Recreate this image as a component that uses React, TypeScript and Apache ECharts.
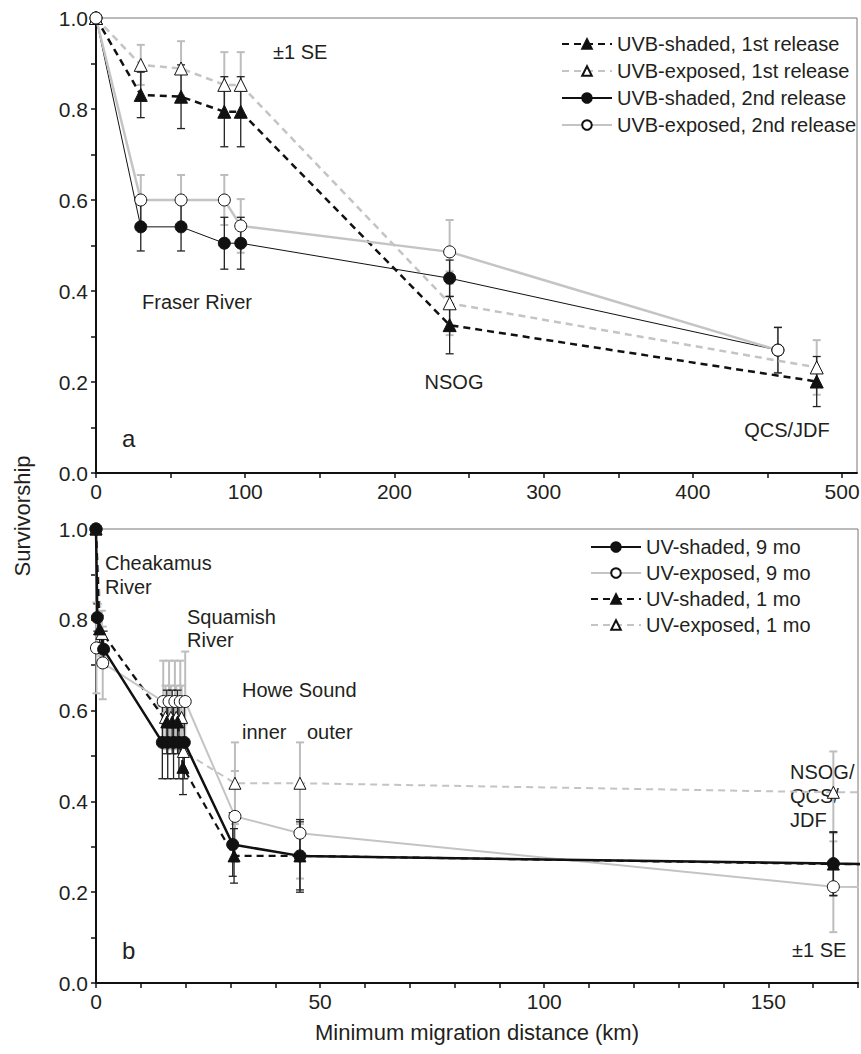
import React, { useEffect, useRef } from 'react';
import * as echarts from 'echarts';

const FONT = '"Liberation Sans", Arial, Helvetica, sans-serif';
const INK = '#231f20';
const GREY = '#c4c4c4';
const GREY_ERR = '#bdbdbd';

// ---------- Panel a (distance units as on the axis) ----------
const distA1 = [0, 30, 57, 86, 97, 237, 483];
const distA2 = [0, 30, 57, 86, 97, 237, 457];
const shadedA1 = [1.0, 0.831, 0.827, 0.794, 0.794, 0.325, 0.201];
const shadedA1SE = [0, 0.05, 0.07, 0.077, 0.077, 0.063, 0.055];
const exposedA1 = [1.0, 0.897, 0.889, 0.853, 0.853, 0.373, 0.232];
const exposedA1SE = [0, 0.044, 0.06, 0.072, 0.072, 0.07, 0.06];
const shadedA2 = [1.0, 0.541, 0.541, 0.505, 0.505, 0.428, 0.27];
const shadedA2SE = [0, 0.053, 0.053, 0.057, 0.057, 0.04, 0.05];
const exposedA2 = [1.0, 0.6, 0.6, 0.6, 0.543, 0.486, 0.27];
const exposedA2SE = [0, 0.055, 0.055, 0.055, 0.059, 0.07, 0.05];

// ---------- Panel b (km) ----------
const distB9s = [0, 0.3, 1.7, 14.8, 16.0, 17.3, 18.5, 19.7, 30.5, 45.5, 164.5];
const shadedB9 = [1.0, 0.805, 0.735, 0.53, 0.53, 0.53, 0.53, 0.53, 0.305, 0.28, 0.263];
const shadedB9SE = [0, 0.03, 0.04, 0.08, 0.08, 0.08, 0.08, 0.08, 0.07, 0.075, 0.07];
const distB9e = [0, 0.1, 1.5, 15.0, 16.3, 17.6, 18.8, 19.9, 31, 45.5, 164.5];
const exposedB9 = [1.0, 0.738, 0.705, 0.62, 0.62, 0.62, 0.62, 0.62, 0.367, 0.33, 0.212];
const exposedB9SE = [0, 0.1, 0.08, 0.09, 0.09, 0.09, 0.09, 0.11, 0.1, 0.1, 0.1];
const distB1s = [0, 0.8, 15.8, 17.0, 18.2, 19.4, 30.8, 45.5, 164.5];
const shadedB1 = [1.0, 0.78, 0.575, 0.575, 0.575, 0.475, 0.28, 0.28, 0.262];
const shadedB1SE = [0, 0.03, 0.07, 0.07, 0.07, 0.06, 0.06, 0.08, 0.07];
const distB1e = [0, 1.3, 15.5, 16.7, 17.9, 19.1, 19.5, 31, 45.5, 164.5];
const exposedB1 = [1.0, 0.77, 0.585, 0.585, 0.585, 0.585, 0.51, 0.44, 0.44, 0.42];
const exposedB1SE = [0, 0.05, 0.07, 0.07, 0.07, 0.07, 0.06, 0.09, 0.09, 0.09];
// the lines continue past the right end of the axis
const tailDistB = 190;
const tailShadedB9 = 0.26;
const tailExposedB9 = 0.209;
const tailShadedB1 = 0.26;
const tailExposedB1 = 0.42;

const ticksA = [0, 50, 100, 150, 200, 250, 300, 350, 400, 450, 500];
const labelsA = [0, 100, 200, 300, 400, 500];
const ticksB = [0, 10, 20, 30, 40, 50, 60, 70, 80, 90, 100, 110, 120, 130, 140, 150, 160, 170];
const labelsB = [0, 50, 100, 150];
const ticksY = [0, 0.1, 0.2, 0.3, 0.4, 0.5, 0.6, 0.7, 0.8, 0.9, 1.0];
const labelsY = [0, 0.2, 0.4, 0.6, 0.8, 1.0];

const legendA = ['UVB-shaded, 1st release', 'UVB-exposed, 1st release', 'UVB-shaded, 2nd release', 'UVB-exposed, 2nd release'];
const legendB = ['UV-shaded, 9 mo', 'UV-exposed, 9 mo', 'UV-shaded, 1 mo', 'UV-exposed, 1 mo'];

type Sty = { symbol: string; size: number; fill: string; border: string; lineColor: string; width: number; dashed: boolean };

function lineSeries(name: string, xs: number[], ys: number[], idx: number, s: Sty, z: number, tail?: [number, number]) {
  const data: any[] = xs.map((x, i) => [x, ys[i]]);
  if (tail) data.push({ value: tail, symbol: 'none' });
  return {
    type: 'line',
    name,
    xAxisIndex: idx,
    yAxisIndex: idx,
    data,
    symbol: s.symbol,
    symbolSize: s.size,
    showAllSymbol: true,
    clip: true,
    z,
    itemStyle: { color: s.fill, borderColor: s.border, borderWidth: 1, opacity: 1 },
    lineStyle: { color: s.lineColor, width: s.width, type: s.dashed ? [7, 5] : 'solid' },
    emphasis: { disabled: true },
    silent: true,
  };
}

function errSeries(xs: number[], ys: number[], se: number[], idx: number, color: string, width: number, z: number) {
  return {
    type: 'custom',
    xAxisIndex: idx,
    yAxisIndex: idx,
    z,
    silent: true,
    clip: false,
    data: xs.map((x, i) => [x, ys[i], se[i]]),
    encode: { x: 0, y: 1 },
    renderItem: (_p: any, api: any) => {
      const x = api.value(0);
      const y = api.value(1);
      const e = api.value(2);
      if (!e) return { type: 'group', children: [] };
      const hi = api.coord([x, y + e]);
      const lo = api.coord([x, y - e]);
      const cw = 4;
      const st = { stroke: color, lineWidth: width };
      return {
        type: 'group',
        children: [
          { type: 'line', shape: { x1: hi[0], y1: hi[1], x2: lo[0], y2: lo[1] }, style: st },
          { type: 'line', shape: { x1: hi[0] - cw, y1: hi[1], x2: hi[0] + cw, y2: hi[1] }, style: st },
          { type: 'line', shape: { x1: lo[0] - cw, y1: lo[1], x2: lo[0] + cw, y2: lo[1] }, style: st },
        ],
      };
    },
  };
}

function xAxis(idx: number, max: number, ticks: number[], labels: number[]) {
  return {
    type: 'value',
    gridIndex: idx,
    min: 0,
    max,
    axisLine: { show: true, onZero: false, lineStyle: { color: '#111', width: 2 } },
    axisTick: { show: true, customValues: ticks, length: 5, inside: false, lineStyle: { color: '#111', width: 1.5 } },
    axisLabel: { show: true, customValues: labels, fontSize: 21, color: INK, fontFamily: FONT, margin: 8 },
    splitLine: { show: false },
  };
}

function yAxis(idx: number) {
  return {
    type: 'value',
    gridIndex: idx,
    min: 0,
    max: 1,
    axisLine: { show: true, onZero: false, lineStyle: { color: '#111', width: 2 } },
    axisTick: { show: true, customValues: ticksY, length: 5, inside: false, lineStyle: { color: '#111', width: 1.5 } },
    axisLabel: {
      show: true,
      customValues: labelsY,
      fontSize: 21,
      color: INK,
      fontFamily: FONT,
      margin: 8,
      formatter: (v: number) => v.toFixed(1),
    },
    splitLine: { show: false },
  };
}

function txt(text: string, x: number, y: number, size = 20, align = 'left') {
  return {
    type: 'text',
    x,
    y,
    silent: true,
    style: { text, fill: INK, font: `${size}px ${FONT}`, align, verticalAlign: 'middle' },
  };
}

const shadedTri: Sty = { symbol: 'triangle', size: 13, fill: '#111', border: '#111', lineColor: '#111', width: 2.5, dashed: true };
const exposedTri: Sty = { symbol: 'triangle', size: 13, fill: '#fff', border: '#111', lineColor: GREY, width: 2.5, dashed: true };
const shadedCircThin: Sty = { symbol: 'circle', size: 12, fill: '#111', border: '#111', lineColor: '#111', width: 1, dashed: false };
const exposedCirc: Sty = { symbol: 'circle', size: 12, fill: '#fff', border: '#111', lineColor: GREY, width: 2.5, dashed: false };
const shadedCircThick: Sty = { symbol: 'circle', size: 12, fill: '#111', border: '#111', lineColor: '#111', width: 2.5, dashed: false };
const exposedCircB: Sty = { symbol: 'circle', size: 12, fill: '#fff', border: '#111', lineColor: GREY, width: 2, dashed: false };
const shadedTriB: Sty = { symbol: 'triangle', size: 12, fill: '#111', border: '#111', lineColor: '#111', width: 2.2, dashed: true };
const exposedTriB: Sty = { symbol: 'triangle', size: 12, fill: '#fff', border: '#111', lineColor: GREY, width: 2, dashed: true };

export default function App() {
  const ref = useRef<HTMLDivElement>(null);
  useEffect(() => {
    document.body.style.margin = '0';
    if (!ref.current) return;
    const chart = echarts.init(ref.current, undefined, { renderer: 'svg' });
    const legendCommon = {
      orient: 'vertical',
      itemWidth: 50,
      itemHeight: 12,
      selectedMode: false,
      textStyle: { fontSize: 20, color: INK, fontFamily: FONT },
    };
    chart.setOption({
      animation: false,
      backgroundColor: '#fff',
      grid: [
        { left: 96, top: 18, width: 761, height: 455, show: true, borderColor: '#777', borderWidth: 1, containLabel: false, outerBoundsMode: 'none' },
        { left: 96, top: 529, width: 762, height: 454, show: true, borderColor: '#777', borderWidth: 1, containLabel: false, outerBoundsMode: 'none' },
      ],
      xAxis: [xAxis(0, 510, ticksA, labelsA), xAxis(1, 170, ticksB, labelsB)],
      yAxis: [yAxis(0), yAxis(1)],
      legend: [
        { ...legendCommon, data: legendA, left: 556, top: 29, itemGap: 7 },
        { ...legendCommon, data: legendB, left: 585, top: 532, itemGap: 6 },
      ],
      series: [
        // panel a error bars
        errSeries(distA1, exposedA1, exposedA1SE, 0, GREY_ERR, 2, 1),
        errSeries(distA2, exposedA2, exposedA2SE, 0, GREY_ERR, 2, 1),
        errSeries(distA1, shadedA1, shadedA1SE, 0, '#222', 1.3, 1),
        errSeries(distA2, shadedA2, shadedA2SE, 0, '#222', 1.3, 1),
        // panel a lines
        lineSeries(legendA[0], distA1, shadedA1, 0, shadedTri, 3),
        lineSeries(legendA[1], distA1, exposedA1, 0, exposedTri, 3),
        lineSeries(legendA[2], distA2, shadedA2, 0, shadedCircThin, 3),
        lineSeries(legendA[3], distA2, exposedA2, 0, exposedCirc, 3),
        // panel b error bars
        errSeries(distB9e, exposedB9, exposedB9SE, 1, GREY_ERR, 2, 1),
        errSeries(distB1e, exposedB1, exposedB1SE, 1, GREY_ERR, 2, 1),
        errSeries(distB9s, shadedB9, shadedB9SE, 1, '#222', 1.3, 1),
        errSeries(distB1s, shadedB1, shadedB1SE, 1, '#222', 1.3, 1),
        // panel b lines
        lineSeries(legendB[3], distB1e, exposedB1, 1, exposedTriB, 3, [tailDistB, tailExposedB1]),
        lineSeries(legendB[2], distB1s, shadedB1, 1, shadedTriB, 3, [tailDistB, tailShadedB1]),
        lineSeries(legendB[1], distB9e, exposedB9, 1, exposedCircB, 3, [tailDistB, tailExposedB9]),
        lineSeries(legendB[0], distB9s, shadedB9, 1, shadedCircThick, 3, [tailDistB, tailShadedB9]),
      ],
      graphic: [
        txt('±1 SE', 273, 52),
        txt('Fraser River', 142, 302),
        txt('NSOG', 454, 382, 20, 'center'),
        txt('QCS/JDF', 787, 430, 20, 'center'),
        txt('a', 122, 438, 24),
        txt('Cheakamus', 105, 563),
        txt('River', 105, 587),
        txt('Squamish', 187, 617),
        txt('River', 187, 640),
        txt('Howe Sound', 242, 690),
        txt('inner', 242, 732),
        txt('outer', 307, 732),
        txt('NSOG/', 790, 772),
        txt('QCS/', 790, 796),
        txt('JDF', 790, 820),
        txt('±1 SE', 792, 950),
        txt('b', 122, 950, 24),
        {
          type: 'text',
          x: 22,
          y: 516,
          rotation: Math.PI / 2,
          silent: true,
          style: { text: 'Survivorship', fill: INK, font: `22px ${FONT}`, align: 'center', verticalAlign: 'middle' },
        },
        txt('Minimum migration distance (km)', 477, 1032, 22, 'center'),
      ],
    });
    return () => chart.dispose();
  }, []);
  return <div ref={ref} style={{ width: 861, height: 1054 }} />;
}
